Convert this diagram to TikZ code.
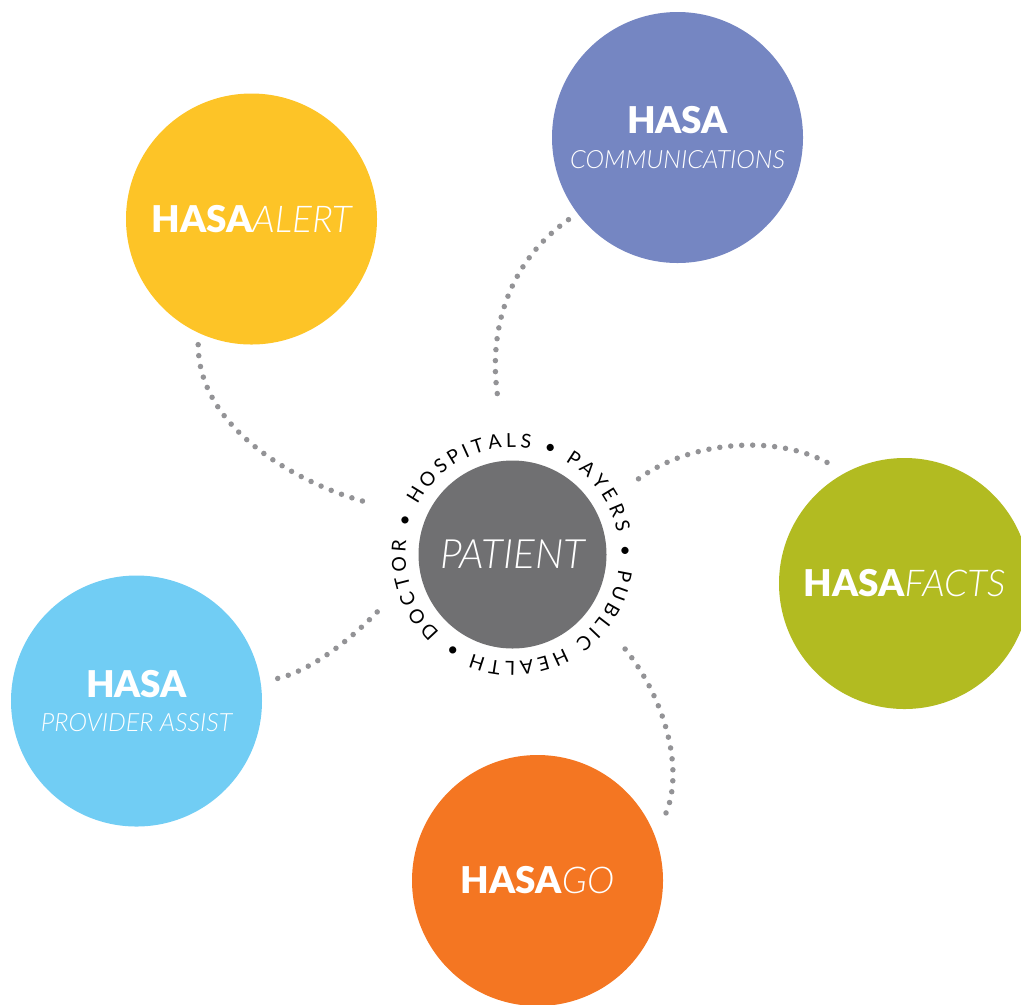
\documentclass[tikz,border=0pt]{standalone}
\usepackage{fontspec}
\setmainfont{Lato}
\newfontfamily\litfont{Lato Light Italic}
\newfontfamily\heavyfont{Lato Black}
\usetikzlibrary{decorations.text}

\definecolor{alertyellow}{RGB}{253,196,39}
\definecolor{commpurple}{RGB}{117,134,194}
\definecolor{factsgreen}{RGB}{178,187,33}
\definecolor{goorange}{RGB}{244,118,34}
\definecolor{assistblue}{RGB}{113,205,244}
\definecolor{patientgray}{RGB}{112,112,114}
\definecolor{dotgray}{RGB}{147,147,150}

\newcommand{\bigbold}[1]{{\fontsize{21}{19.4}\selectfont\heavyfont #1}}
\newcommand{\bigital}[1]{{\fontsize{21}{19.4}\selectfont\litfont #1}}
\newcommand{\smallital}[1]{{\fontsize{14.3}{19.4}\selectfont\litfont #1}}
\newcommand{\ringfont}{\fontsize{11}{13}\selectfont}

\begin{document}
\begin{tikzpicture}[
  hub/.style={circle, minimum size=5.02cm, inner sep=0pt, outer sep=0.22cm,
    text=white, align=center, font=\fontsize{14.3}{19.4}\selectfont},
  link/.style={draw=dotgray, line width=0.11cm, line cap=round,
    dash pattern=on 0pt off 0.22cm}
]
\useasboundingbox (0,0) rectangle (20.42,-20.08);

% Patient
\node[circle, fill=patientgray, minimum size=3.76cm, inner sep=0pt, outer sep=1.06cm, text=white]
  (patient) at (10.25,-11.09) {\litfont\fontsize{23}{27}\selectfont PATIENT};

% Ring of partners
\path[decorate, decoration={text along path, text align={fit to path},
    text={|\ringfont|DOCTOR • HOSPITALS • PAYERS • PUBLIC HEALTH •}}]
  (patient.center) ++(227:2.14) arc[start angle=227, end angle=-125, radius=2.14];

% Services
\node[hub, fill=alertyellow] (alert)  at (5.03,-4.38)   {\bigbold{HASA}\bigital{ALERT}};
\node[hub, fill=commpurple]  (comm)   at (13.55,-2.75)  {\bigbold{HASA}\\\smallital{COMMUNICATIONS}};
\node[hub, fill=factsgreen]  (facts)  at (18.09,-11.67) {\bigbold{HASA}\bigital{FACTS}};
\node[hub, fill=goorange]    (go)     at (10.75,-17.61) {\bigbold{HASA}\bigital{GO}};
\node[hub, fill=assistblue]  (assist) at (2.73,-14.02)  {\bigbold{HASA}\\\smallital{PROVIDER ASSIST}};

% Dotted links
\draw[link, shorten >=0.2cm] (alert.247) .. controls +(0,-1.7) and +(-1.48,0.4) .. (patient.160);
\draw[link, shorten >=0.08cm] (comm.217.7) .. controls +(-1.36,-0.96) and +(-0.24,1.28) .. (patient.95.7);
\draw[link] (patient.31) .. controls +(1.04,0.76) and +(-1.1,0.68) .. (facts.121.3);
\draw[link, shorten >=0.13cm] (patient.-40) .. controls +(0.84,-1.04) and +(0.48,0.96) .. (go.25.9);
\draw[link] (patient.203) .. controls +(-0.76,-0.78) and +(0.56,0.08) .. (assist.9.1);
\end{tikzpicture}
\end{document}
